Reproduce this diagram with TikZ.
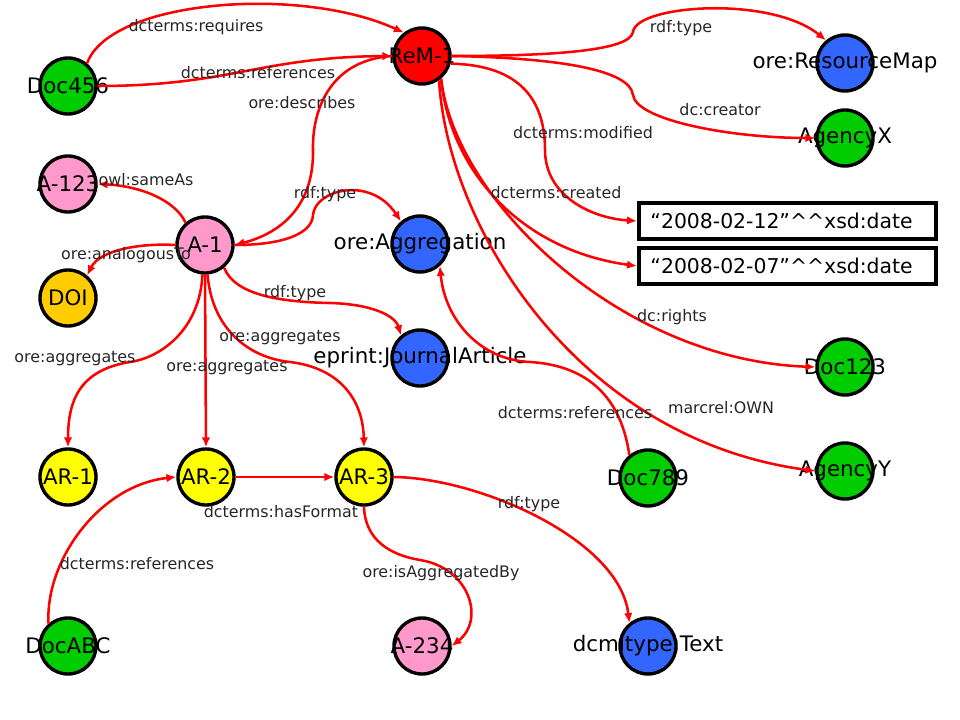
\documentclass[tikz,border=0pt]{standalone}
\usepackage{fontspec}
\setmainfont{DejaVu Sans}
\usepackage{tikz}
\usetikzlibrary{arrows.meta}

\definecolor{relred}{RGB}{255,0,0}
\definecolor{resgreen}{RGB}{0,204,0}
\definecolor{resblue}{RGB}{51,102,255}
\definecolor{respink}{RGB}{255,153,204}
\definecolor{resyellow}{RGB}{255,255,0}
\definecolor{resorange}{RGB}{255,204,0}

\begin{document}
\begin{tikzpicture}[x=0.025cm, y=-0.025cm, >={Latex[length=7pt,width=6pt]},
    res/.style={circle, draw=black, line width=2.4pt, minimum size=1.4cm, inner sep=0pt},
    lit/.style={rectangle, draw=black, line width=2.8pt, fill=white, minimum height=0.92cm, text width=6.85cm, inner xsep=0.29cm, align=left, font=\fontsize{14.5}{17}\selectfont},
    rel/.style={->, draw=relred, line width=1.8pt},
    lbl/.style={font=\fontsize{11.3}{13}\selectfont, text=black!85, inner sep=0pt},
    every label/.style={font=\fontsize{15.2}{18}\selectfont, inner sep=0pt}]

    \useasboundingbox (0,0) rectangle (960,720);

    % resources
    \node [res, fill=resgreen, label={center:Doc456}] (doc456) at (68,86) {};
    \node [res, fill=relred, label={center:ReM-1}] (rem) at (422,56) {};
    \node [res, fill=resblue, label={center:ore:ResourceMap}] (rmap) at (845,63) {};
    \node [res, fill=resgreen, label={center:AgencyX}] (agx) at (845,138) {};
    \node [res, fill=respink, label={center:A-123}] (a123) at (68,184) {};
    \node [res, fill=respink, label={center:A-1}] (aone) at (205,245) {};
    \node [res, fill=resblue, label={center:ore:Aggregation}] (agg) at (420,244) {};
    \node [res, fill=resorange, label={center:DOI}] (doi) at (68,298) {};
    \node [res, fill=resblue, label={center:eprint:JournalArticle}] (ja) at (420,358) {};
    \node [res, fill=resgreen, label={center:Doc123}] (doc123) at (845,367) {};
    \node [res, fill=resgreen, label={center:AgencyY}] (agy) at (845,471) {};
    \node [res, fill=resgreen, label={center:Doc789}] (doc789) at (648,478) {};
    \node [res, fill=resyellow, label={center:AR-1}] (arone) at (68,477) {};
    \node [res, fill=resyellow, label={center:AR-2}] (artwo) at (206,477) {};
    \node [res, fill=resyellow, label={center:AR-3}] (arthree) at (364,477) {};
    \node [res, fill=resgreen, label={center:DocABC}] (docabc) at (68,646) {};
    \node [res, fill=respink, label={center:A-234}] (a234) at (422,646) {};
    \node [res, fill=resblue, label={center:dcmitype:Text}] (dctext) at (648,646) {};

    % literals
    \node [lit] (dmod) at (787.5,221) {“2008-02-12”\textasciicircum\textasciicircum xsd:date};
    \node [lit] (dcre) at (787.5,266) {“2008-02-07”\textasciicircum\textasciicircum xsd:date};

    % relations
    \draw [rel] (doc456.50) .. controls (110,0) and (300,-15) .. (rem.128);
    \draw [rel] (doc456.east) .. controls (230,86) and (260,57) .. (rem.west);
    \draw [rel] (rem.west) .. controls (330,60) and (312,110) .. (313,150) .. controls (314,215) and (270,236) .. (aone.east);
    \draw [rel] (rem.east) .. controls (560,56) and (630,50) .. (633,32) .. controls (636,5) and (770,-5) .. (rmap.130);
    \draw [rel] (rem.east) .. controls (560,58) and (630,70) .. (633,95) .. controls (636,120) and (730,138) .. (agx.west);
    \draw [rel] (rem.-15) .. controls (520,65) and (545,100) .. (545,150) .. controls (545,195) and (590,218) .. (dmod.west);
    \draw [rel] (rem.-50) .. controls (450,170) and (520,250) .. (dcre.west);
    \draw [rel] (rem.-50) .. controls (455,200) and (620,360) .. (doc123.west);
    \draw [rel] (rem.-55) .. controls (448,230) and (580,440) .. (agy.west);

    \draw [rel] (aone.131) .. controls (175,200) and (140,186) .. (a123.east);
    \draw [rel] (aone.east) .. controls (280,245) and (312,235) .. (313,215) .. controls (315,190) and (370,175) .. (agg.130);
    \draw [rel] (aone.west) .. controls (140,243) and (100,250) .. (doi.50);
    \draw [rel] (aone.-50) .. controls (235,295) and (280,302) .. (330,303) .. controls (370,304) and (395,315) .. (ja.130);
    \draw [rel] (aone.-95) .. controls (200,330) and (160,358) .. (130,362) .. controls (80,370) and (68,400) .. (arone.north);
    \draw [rel] (aone.south) -- (artwo.north);
    \draw [rel] (aone.-85) .. controls (212,330) and (250,358) .. (290,362) .. controls (340,368) and (363,400) .. (arthree.north);
    \draw [rel] (artwo.east) -- (arthree.west);
    \draw [rel] (docabc.131) .. controls (45,560) and (100,485) .. (artwo.west);
    \draw [rel] (arthree.south) .. controls (365,540) and (390,555) .. (420,560) .. controls (470,568) and (485,620) .. (a234.east);
    \draw [rel] (arthree.east) .. controls (480,478) and (620,540) .. (dctext.129);
    \draw [rel] (doc789.129) .. controls (620,390) and (580,365) .. (530,362) .. controls (480,360) and (445,320) .. (agg.-48);

    % relation names
    \node [lbl] (lrequires) at (196,27) {dcterms:requires};
    \node [lbl] (lrefs) at (258,73) {dcterms:references};
    \node [lbl] (ldescribes) at (302,103) {ore:describes};
    \node [lbl] (lrmtype) at (681,28) {rdf:type};
    \node [lbl] (lcreator) at (720,110) {dc:creator};
    \node [lbl] (lmodified) at (583,133) {dcterms:modified};
    \node [lbl] (lcreated) at (556,193) {dcterms:created};
    \node [lbl] (lrights) at (672,317) {dc:rights};
    \node [lbl] (lown) at (721,408) {marcrel:OWN};
    \node [lbl] (lsame) at (146,180) {owl:sameAs};
    \node [lbl] (laggtype) at (325,194) {rdf:type};
    \node [lbl] (lanalog) at (126,255) {ore:analogousTo};
    \node [lbl] (ljatype) at (295,293) {rdf:type};
    \node [lbl] (laggthree) at (280,338) {ore:aggregates};
    \node [lbl] (laggone) at (75,359) {ore:aggregates};
    \node [lbl] (laggtwo) at (227,368) {ore:aggregates};
    \node [lbl] (lrefsagg) at (575,413) {dcterms:references};
    \node [lbl] (lformat) at (281,512) {dcterms:hasFormat};
    \node [lbl] (ltexttype) at (529,504) {rdf:type};
    \node [lbl] (lrefsabc) at (137,564) {dcterms:references};
    \node [lbl] (lisagg) at (441,573) {ore:isAggregatedBy};
\end{tikzpicture}
\end{document}
